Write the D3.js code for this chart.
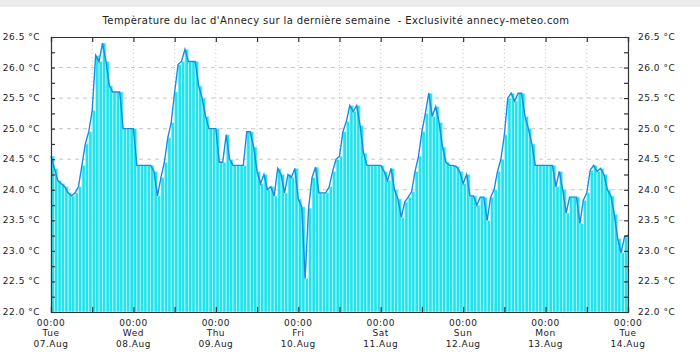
<!DOCTYPE html>
<html><head><meta charset="utf-8">
<script src="https://cdn.jsdelivr.net/npm/d3@7"></script>
<style>body{margin:0;background:#fff;}svg{display:block;}</style>
</head><body>
<svg id="c" width="700" height="357"></svg>
<script>
const title = "Tempèrature du lac d'Annecy sur la dernière semaine  - Exclusivité annecy-meteo.com";
const dayNames = ["Tue","Wed","Thu","Fri","Sat","Sun","Mon","Tue"];
const dayDates = ["07.Aug","08.Aug","09.Aug","10.Aug","11.Aug","12.Aug","13.Aug","14.Aug"];
const yTicks = [22.0,22.5,23.0,23.5,24.0,24.5,25.0,25.5,26.0,26.5];
// hourly lake temperature (°C), from Tue 07.Aug 00:00 to Tue 14.Aug 00:00
const temps = [
 24.55,24.35,24.15,24.1,24.05,23.95,23.9,23.95,24.05,24.4,24.75,24.95,
 25.3,26.2,26.1,26.4,26.1,25.7,25.6,25.6,25.6,25.0,25.0,25.0,
 25.0,24.4,24.4,24.4,24.4,24.4,24.3,23.9,24.2,24.45,24.85,25.1,
 25.6,26.05,26.1,26.3,26.1,26.1,26.1,25.7,25.5,25.2,25.0,25.0,
 25.0,24.45,24.45,24.9,24.5,24.4,24.4,24.4,24.4,24.95,24.95,24.7,
 24.3,24.1,24.25,24.0,24.05,23.9,24.35,24.25,23.95,24.25,24.2,24.35,
 23.85,23.72,22.55,23.7,24.2,24.37,23.95,23.95,23.95,24.05,24.3,24.5,
 24.55,24.95,25.12,25.38,25.28,25.38,25.05,24.6,24.4,24.4,24.4,24.4,
 24.4,24.3,24.15,24.35,24.0,23.85,23.55,23.8,23.88,23.97,24.3,24.55,
 24.95,25.25,25.58,25.2,25.36,25.1,24.7,24.45,24.4,24.4,24.38,24.3,
 24.1,24.25,23.9,23.9,23.75,23.88,23.88,23.5,23.88,24.0,24.3,24.5,
 24.9,25.5,25.58,25.45,25.58,25.58,25.2,25.0,24.75,24.4,24.4,24.4,
 24.4,24.4,24.4,24.05,24.3,24.0,23.62,23.88,23.88,23.88,23.45,23.83,
 23.95,24.32,24.4,24.3,24.35,24.25,24.0,23.9,23.6,23.2,22.97,23.23,
 23.26
];

const svg = d3.select("#c");
const L = 51, R = 628, T = 37, B = 312;
const x = d3.scaleLinear().domain([0,168]).range([L,R]);
const y = d3.scaleLinear().domain([22,26.5]).range([B,T]);
const font = "'DejaVu Sans', sans-serif";

// light band at very top
svg.append("rect").attr("x",0).attr("y",0).attr("width",700).attr("height",7).attr("fill","#ececec");

svg.append("text").attr("x",336).attr("y",24).attr("text-anchor","middle")
  .attr("font-family",font).attr("font-size",10).attr("letter-spacing",0.4)
  .style("white-space","pre").attr("fill","#222").text(title);

// grid
const g = svg.append("g");
g.selectAll(".hg").data(yTicks.slice(1,-1)).join("line")
  .attr("x1",L).attr("x2",R).attr("y1",d=>y(d)).attr("y2",d=>y(d))
  .attr("stroke","#b8b8b8").attr("stroke-width",0.8).attr("stroke-dasharray","4,4");
const halfDays = d3.range(1,14).map(i=>i*12);
g.selectAll(".vg").data(halfDays).join("line")
  .attr("x1",d=>x(d)).attr("x2",d=>x(d)).attr("y1",T).attr("y2",B)
  .attr("stroke","#b8b8b8").attr("stroke-width",0.8).attr("stroke-dasharray","1,3");

// bars
const bw = x(1)-x(0);
svg.append("g").selectAll("rect").data(temps.slice(0,168)).join("rect")
  .attr("x",(d,i)=>x(i)).attr("width",bw)
  .attr("y",d=>y(d)).attr("height",d=>B-y(d))
  .attr("fill","#22e3ec").attr("stroke","#b4f6f9").attr("stroke-width",0.8);

// line
svg.append("path").datum(temps)
  .attr("d",d3.line().x((d,i)=>x(i)).y(d=>y(d)))
  .attr("fill","none").attr("stroke","#1a8ce0").attr("stroke-width",1.4);

// axes frame
const axisColor = "#333";
const yl = d3.axisLeft(y).tickValues(d3.range(22,26.51,0.25)).tickSize(-4).tickFormat("");
const yr = d3.axisRight(y).tickValues(d3.range(22,26.51,0.25)).tickSize(-4).tickFormat("");
const xt = d3.axisTop(x).tickValues(d3.range(0,169,12)).tickSize(-5).tickFormat("");
const xb = d3.axisBottom(x).tickValues(d3.range(0,169,12)).tickSize(-5).tickFormat("");
[[yl,`translate(${L},0)`],[yr,`translate(${R},0)`],[xt,`translate(0,${T})`],[xb,`translate(0,${B})`]].forEach(([a,t])=>{
  const ag = svg.append("g").attr("transform",t).call(a);
  ag.selectAll("path,line").attr("stroke",axisColor).attr("stroke-width",1.2);
});

// y labels
const lab = svg.append("g").attr("font-family",font).attr("font-size",9)
  .attr("letter-spacing",0.5).attr("fill","#222");
lab.selectAll(".yl").data(yTicks).join("text")
  .attr("x",40).attr("y",d=>y(d)+3).attr("text-anchor","end").text(d=>d.toFixed(1)+" °C");
lab.selectAll(".yr").data(yTicks).join("text")
  .attr("x",638).attr("y",d=>y(d)+3).attr("text-anchor","start").text(d=>d.toFixed(1)+" °C");

// x labels
const days = d3.range(0,8);
const xl = lab.selectAll(".xl").data(days).join("text")
  .attr("text-anchor","middle").attr("x",d=>x(d*24));
xl.append("tspan").attr("x",d=>x(d*24)).attr("y",326).text("00:00");
xl.append("tspan").attr("x",d=>x(d*24)).attr("y",336).text(d=>dayNames[d]);
xl.append("tspan").attr("x",d=>x(d*24)).attr("y",347).text(d=>dayDates[d]);
</script>
</body></html>
